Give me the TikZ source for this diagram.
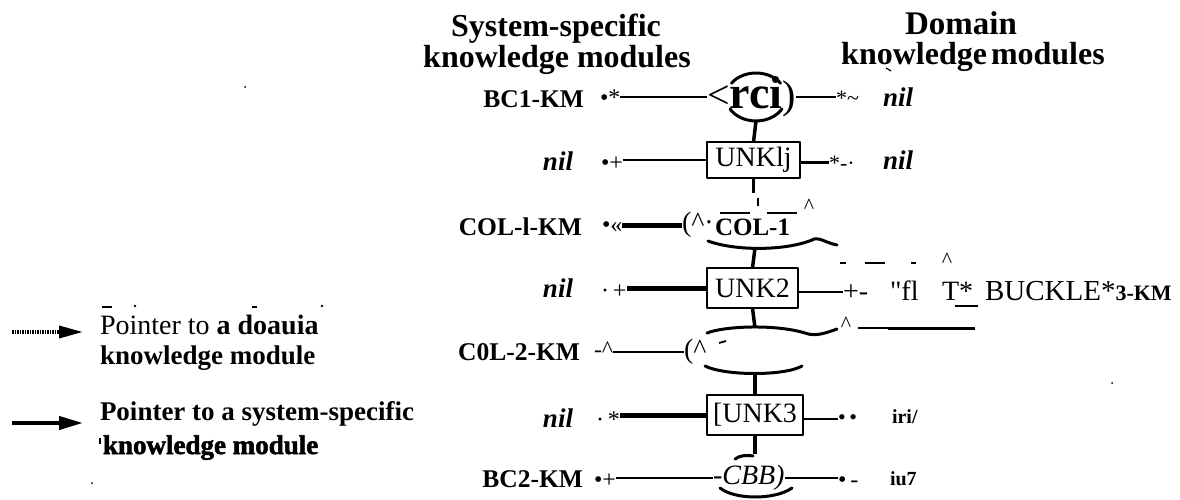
\documentclass[tikz,border=0pt]{standalone}
\usepackage{fontspec}
\setmainfont{Liberation Serif}
\newfontfamily\smearfont{Liberation Serif Bold}[FakeBold=2]
\usetikzlibrary{shapes.geometric,arrows.meta}
\newcommand\fsz[1]{\fontsize{#1pt}{#1pt}\selectfont}
\tikzset{
  txt/.style={inner sep=0pt, outer sep=0pt},
  lbl/.style={txt, font=\fsz{25.5}\bfseries, anchor=base east},
  nilt/.style={txt, font=\fsz{27}\bfseries\itshape, anchor=base east},
  mk/.style={txt, font=\fsz{24}, anchor=base west},
  rtxt/.style={txt, font=\fsz{28}, anchor=base west},
  box/.style={draw, line width=2.5pt, inner sep=0pt, outer sep=0pt, font=\fsz{28}},
  ghost/.style={ellipse, inner sep=0pt, outer sep=0pt},
  link/.style={line width=2.6pt},
  tlink/.style={line width=5pt},
  vlink/.style={line width=3.5pt},
  arcst/.style={line width=3pt, line cap=round},
  tickst/.style={line width=1.8pt}
}
\begin{document}
\begin{tikzpicture}[x=1pt, y=-1pt, line join=round]
\fill[white] (0,0) rectangle (1180,500);
\useasboundingbox (0,0) rectangle (1180,500);

% headings
\node[txt, font=\fsz{32}\bfseries, anchor=base] (h1a) at (556,37) {System-specific};
\node[txt, font=\fsz{32}\bfseries, anchor=base] (h1b) at (557,68) {knowledge modules};
\node[txt, font=\fsz{33}\bfseries, anchor=base] (h2a) at (961,35) {Domain};
\node[txt, font=\fsz{32}\bfseries, anchor=base] (h2b) at (973,65) {knowledge\hspace{4pt}modules};
\draw[line width=1.2pt] (886,68) -- (891,71);

% left labels
\node[lbl] (l1) at (584,108) {BC1-KM};
\node[nilt] (l2) at (573,170) {nil};
\node[lbl] (l3) at (582,235) {COL-l-KM};
\node[nilt] (l4) at (573,297) {nil};
\node[lbl] (l5) at (580,360) {C0L-2-KM};
\node[nilt] (l6) at (573,427) {nil};
\node[lbl] (l7) at (583,487) {BC2-KM};

% ---------- row 1
\node[mk] (m1) at (600,106) {•*};
\node[txt, anchor=west] (N1) at (707,97) {{\fsz{40}<}{\fsz{46}\bfseries rci}{\fsz{40})}};
\node[ghost, minimum width=60pt, minimum height=48pt] (E1) at (756,97) {};
\draw[link] (m1.east |- N1.west) -- (N1.west);
\draw[arcst] (E1.center) ++(215:30 and 24) arc[start angle=215, end angle=325, x radius=30, y radius=24];
\draw[arcst] (E1.center) ++(30:30 and 24) arc[start angle=30, end angle=150, x radius=30, y radius=24];
\node[mk, font=\fsz{22}] (r1) at (836,106) {*\textasciitilde};
\draw[link] (N1.east) -- (N1.east -| r1.west);
\node[nilt, anchor=base west] (n1) at (883,107) {nil};

% ---------- row 2
\node[box, minimum width=93pt, minimum height=36pt] (U1) at (753.5,160) {UNKlj};
\draw[vlink] (E1.south) -- (U1.north);
\node[mk] (m2) at (601,170) {•+};
\draw[link] (m2.east |- U1.west) -- (U1.west);
\node[mk, font=\fsz{22}] (r2) at (829,170) {*-·};
\draw[link] (U1.east |- r2.west) -- (r2.west);
\node[nilt, anchor=base west] (n2) at (883,169) {nil};
\coordinate (s1) at (753.5,193);
\draw[vlink] (U1.south) -- (s1);

% ---------- row 3
\node[mk] (m3) at (602,232) {•«};
\node[txt, anchor=west, font=\fsz{28}] (p3) at (682,225) {(\textasciicircum·};
\draw[tlink] (m3.east |- p3.west) -- (p3.west);
\node[txt, anchor=base west, font=\fsz{25}\bfseries] (c1) at (715,235) {COL-1};
\draw[tickst] (720,213) -- (750,213) (767,213) -- (797,213);
\draw[line width=1.5pt] (758,198) -- (758,206);
\node[txt, font=\fsz{22}] (ca) at (809,206) {\textasciicircum};
\node[ghost, minimum width=110pt, minimum height=44pt] (E3) at (755,226) {};
\draw[arcst] (708,241) .. controls (735,251) and (785,251) .. (812,240) .. controls (818,236) and (826,243) .. (837,245);

% ---------- row 4
\node[box, minimum width=91pt, minimum height=40pt] (U2) at (752.5,288) {UNK2};
\draw[vlink] (E3.south) -- (U2.north);
\node[mk] (m4) at (601,298) {·\,+};
\draw[tlink] (m4.east |- U2.west) -- (U2.west);
\node[rtxt] (r4) at (843,300) {+-};
\draw[link] (U2.east |- r4.west) -- (r4.west);
\node[rtxt] (q4) at (890,300) {\textquotedbl fl};
\node[rtxt] (t4) at (942,300) {T*};
\draw[line width=2.2pt] (955,306) -- (978,306);
\node[rtxt, font=\fsz{29}] (b4) at (985,300) {BUCKLE*};
\node[txt, anchor=base west, font=\fsz{22}\bfseries] (k4) at (b4.base east) {3-KM};
\draw[tickst] (840,263) -- (846,263) (865,263) -- (885,263) (911,263) -- (916,263);
\node[txt, font=\fsz{22}] (cu4) at (947,260) {\textasciicircum};
\node[txt, font=\fsz{22}] (cd4) at (846,324) {\textasciicircum};
\draw[line width=1.6pt] (858,328) -- (888,328);
\draw[line width=3pt] (888,328) -- (975,328);

% ---------- row 5
\node[ghost, minimum width=100pt, minimum height=46pt] (E5) at (755,351) {};
\draw[vlink] (U2.south) -- (E5.north);
\draw[arcst] (707,333) .. controls (725,326) and (775,324) .. (805,333) .. controls (815,337) and (826,333) .. (837,329);
\draw[arcst] (705,366) .. controls (725,376) and (785,376) .. (802,366);
\node[mk] (m5) at (594,357) {-\textasciicircum};
\node[txt, anchor=west, font=\fsz{28}] (p5) at (684,352) {(\textasciicircum};
\draw[link] (m5.east |- p5.west) -- (p5.west);
\draw[tickst] (719,343) -- (726,341);

% ---------- row 6
\node[box, minimum width=96pt, minimum height=40pt] (U3) at (755,415) {[UNK3};
\draw[vlink] (E5.south) -- (U3.north);
\node[mk] (m6) at (596,427) {·\,*};
\draw[tlink] (m6.east |- U3.west) -- (U3.west);
\node[mk, font=\fsz{22}] (r6) at (838,424) {•\,•};
\draw[link] (U3.east |- r6.west) -- (r6.west);
\node[txt, anchor=base west, font=\fsz{20}\bfseries] (n6) at (892,423) {iri/};

% ---------- row 7
\node[ghost, minimum width=76pt, minimum height=44pt] (E7) at (755,476) {};
\draw[vlink] (U3.south) -- (E7.north);
\node[txt, anchor=west, font=\fsz{28}] (c7) at (713,478) {-\textit{CBB)}};
\draw[arcst] (735,459) .. controls (740,455) and (748,455) .. (753,456);
\draw[arcst] (720,488) .. controls (735,500) and (775,500) .. (792,488);
\node[mk] (m7) at (594,487) {•+};
\draw[link] (m7.east |- c7.west) -- (c7.west);
\node[mk] (r7) at (838,487) {•\,-};
\draw[link] (c7.east) -- (c7.east -| r7.west);
\node[txt, anchor=base west, font=\fsz{20}\bfseries] (n7) at (890,485) {iu7};

% ---------- legend
\coordinate (a1s) at (12,332);
\coordinate (a1e) at (83,332);
\draw[line width=3.5pt, dash pattern=on 1.5pt off 1pt, -{Triangle[length=24pt,width=12pt]}] (a1s) -- (a1e);
\coordinate (a2s) at (12,423);
\coordinate (a2e) at (83,423);
\draw[line width=4pt, -{Triangle[length=24pt,width=13pt]}] (a2s) -- (a2e);
\node[txt, anchor=base west, font=\fsz{28}] (g1) at (100,334) {Pointer to \textbf{a doauia}};
\node[txt, anchor=base west, font=\fsz{27}\bfseries] (g2) at (100,364) {knowledge module};
\node[txt, anchor=base west, font=\fsz{27}\bfseries] (g3) at (100,420) {Pointer to a system-specific};
\node[txt, anchor=base west, font=\fsz{27}\smearfont] (g4) at (103,454) {knowledge module};
\draw[line width=1.5pt] (102,307) -- (112,307) (252,307) -- (257,307) (100,438) -- (100,444);
\fill (135,306) circle (1.3pt) (322,306) circle (1.3pt);
\fill (92,483) circle (1pt) (245,87) circle (1pt) (1112,383) circle (1pt);
\end{tikzpicture}
\end{document}
